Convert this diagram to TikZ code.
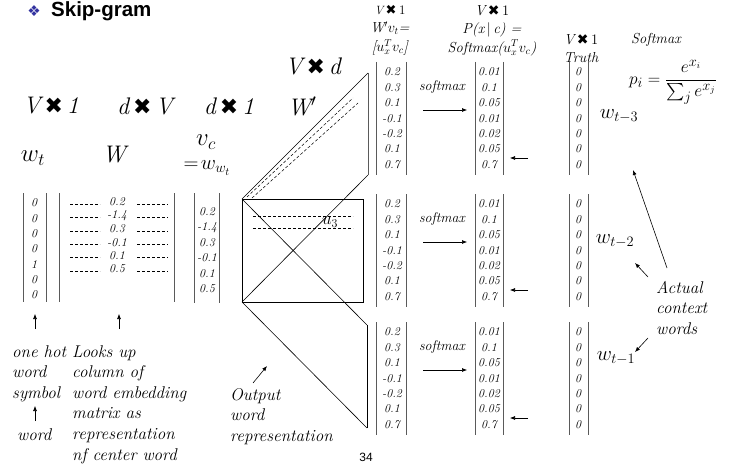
\documentclass[tikz,border=0pt]{standalone}
\usepackage{fontspec}
\usepackage{amsmath}
\usetikzlibrary{arrows.meta}
\newfontfamily\dejavu{DejaVu Sans}
\newfontfamily\arial{Liberation Sans}
\newcommand{\hx}{{\dejavu\bfseries ✖}}
\definecolor{bulletblue}{RGB}{51,51,160}
\definecolor{bargray}{RGB}{90,90,90}
\newcommand{\fs}[1]{\fontsize{#1}{#1}\selectfont}
\begin{document}
\begin{tikzpicture}[x=1pt,y=-1pt,
  val/.style={font=\fs{12}\itshape, inner sep=0pt},
  big/.style={font=\fs{24}\itshape, inner sep=0pt},
  hdr/.style={font=\fontsize{14.5}{18.5}\selectfont\itshape, inner sep=0pt, align=center},
  note/.style={font=\fontsize{17}{20.6}\selectfont\itshape, align=left, inner sep=0pt, anchor=north west},
  bar/.style={draw=bargray, line width=1pt},
  edge/.style={draw=black, line width=0.6pt},
  dsh/.style={draw=black, line width=0.5pt, dash pattern=on 3pt off 2pt},
  arr/.style={-{Latex[length=5pt,width=4pt]}, line width=0.6pt},
]
\useasboundingbox (0,0) rectangle (730,465);

% title
\node[font=\dejavu\fs{15}, text=bulletblue, inner sep=0pt] (bul) at (34,11) {❖};
\node[font=\arial\bfseries\fs{20.5}, anchor=west, inner sep=0pt] (title) at (51,11) {Skip-gram};

% big dimension labels
\node[big] (d1) at (51,106) {V\,{\fs{22}\hx}\,1};
\node[big] (d2) at (145,106) {d\,{\fs{22}\hx}\,V};
\node[big] (d3) at (229,106) {d\,{\fs{22}\hx}\,1};
\node[big] (d4) at (302,106) {W$'$};
\node[big] (d5) at (313,66) {V\,{\fs{22}\hx}\,d};

\node[font=\fs{24}, inner sep=0pt] (wt) at (33,158) {$w_t$};
\node[big] (Wl) at (114,155) {W};
\node[font=\fs{24}, inner sep=0pt] (vc) at (206,142) {$v_c$};
\node[font=\fs{22}, inner sep=0pt] (vcw) at (207,168) {$=\!w_{w_t}$};

% one-hot column
\draw[bar] (23,193) -- (23,302);
\draw[bar] (46,193) -- (46,302);
\foreach \v [count=\i from 0] in {0,0,0,0,1,0,0}
  \node[val] (oh\i) at (34,203+15.3*\i) {\v};

% W column
\draw[bar] (59,193) -- (59,302);
\draw[bar] (174,193) -- (174,302);
\foreach \v [count=\i from 0] in {0.2,-1.4,0.3,-0.1,0.1,0.5} {
  \node[val] (w\i) at (117,202+13.4*\i) {\v};
  \draw[dsh] (70,204+13.4*\i) -- (100,204+13.4*\i);
  \draw[dsh] (137,204+13.4*\i) -- (168,204+13.4*\i);
}

% v_c column
\draw[bar] (194,193) -- (194,303);
\draw[bar] (219,193) -- (219,303);
\foreach \v [count=\i from 0] in {0.2,-1.4,0.3,-0.1,0.1,0.5}
  \node[val] (vc\i) at (207,212+15.3*\i) {\v};

% W' blocks
\coordinate (TL) at (242,199);
\coordinate (BL) at (242,302);
\coordinate (TT) at (368,73);
\coordinate (TB) at (368,175);
\coordinate (MR) at (363,302);
\coordinate (BT) at (367,325);
\coordinate (BB) at (367,428);
\draw[edge] (TL) -- (TT);
\draw[edge] (BL) -- (TB);
\draw[bar] (TT) -- (TB);
\draw[edge] (TL) rectangle (MR);
\draw[edge] (TL) -- (BT);
\draw[edge] (BL) -- (BB);
\draw[edge] (BT) -- (BB);
\draw[dsh] (247,197) -- (353,98);
\draw[dsh] (252,198) -- (358,103);
\draw[dsh] (253,216) -- (353,216);
\draw[dsh] (253,228) -- (353,228);
\node[font=\fs{17}, inner sep=0pt] (u3) at (330,222) {$u_3$};

% output groups
\foreach \g/\yy/\tv in {t/72/5, m/204/1, b/332/6} {
  \draw[bar] (376,\yy-10) -- (376,\yy+103);
  \draw[bar] (406,\yy-10) -- (406,\yy+103);
  \draw[bar] (475,\yy-10) -- (475,\yy+103);
  \draw[bar] (503,\yy-10) -- (503,\yy+103);
  \draw[bar] (569,\yy-10) -- (569,\yy+103);
  \draw[bar] (588,\yy-10) -- (588,\yy+103);
  \foreach \v [count=\i from 0] in {0.2,0.3,0.1,-0.1,-0.2,0.1,0.7}
    \node[val] (a\g\i) at (392,\yy+15.4*\i) {\v};
  \foreach \v [count=\i from 0] in {0.01,0.1,0.05,0.01,0.02,0.05,0.7}
    \node[val] (b\g\i) at (489,\yy+15.4*\i) {\v};
  \foreach \i in {0,...,6}
    \node[val] (c\g\i) at (578,\yy+15.4*\i) {\ifnum\i=\tv 1\else 0\fi};
  \node[font=\fs{14}\itshape, inner sep=0pt] (sm\g) at (442,\yy+15) {softmax};
  \coordinate (sa\g) at (423,\yy+38);
  \coordinate (sb\g) at (467,\yy+38);
  \draw[arr] (sa\g) -- (sb\g);
  \coordinate (la\g) at (528,\yy+86);
  \coordinate (lb\g) at (510,\yy+86);
  \draw[arr] (la\g) -- (lb\g);
}

\node[font=\fs{21}, inner sep=0pt] (wt3) at (619,116) {$w_{t-3}$};
\node[font=\fs{21}, inner sep=0pt] (wt2) at (615,241) {$w_{t-2}$};
\node[font=\fs{21}, inner sep=0pt] (wt1) at (616,358) {$w_{t-1}$};

% headers
\node[hdr, anchor=north] (ha) at (390,5)
  {{\fs{12}V}\,{\fs{13}\hx}\,{\fs{13}\upshape 1}\\W$'v_t$=\\{}[$u_x^Tv_c$]};
\node[hdr, anchor=north] (hb) at (492,5)
  {V\,{\fs{14}\hx}\,{\upshape 1}\\P(x\,$|$\,c) =\\Softmax($u_x^Tv_c$)};
\node[hdr, anchor=north] (hc) at (581,34)
  {V\,{\fs{14}\hx}\,{\upshape 1}\\Truth};
\node[hdr] (hs) at (656,40) {Softmax};
\node[font=\fs{19}, inner sep=0pt] (form) at (673,82) {$p_i=\dfrac{e^{x_i}}{\sum_j e^{x_j}}$};

% bottom annotations
\coordinate (ar1a) at (35,329); \coordinate (ar1b) at (35,314);
\draw[arr] (ar1a) -- (ar1b);
\coordinate (ar2a) at (119,329); \coordinate (ar2b) at (119,314);
\draw[arr] (ar2a) -- (ar2b);
\node[note] (onehot) at (12,345) {one hot\\word\\symbol};
\coordinate (ar3a) at (35,421); \coordinate (ar3b) at (35,406);
\draw[arr] (ar3a) -- (ar3b);
\node[note] (word) at (17,428) {word};
\node[note] (looks) at (72,345) {Looks up\\column of\\word embedding\\matrix as\\representation\\nf center word};
\node[note] (outp) at (230,388) {Output\\word\\representation};
\coordinate (ar4a) at (253,383); \coordinate (ar4b) at (267,366);
\draw[arr] (ar4a) -- (ar4b);
\node[font=\arial\fs{12}, inner sep=0pt] (pg) at (366,457) {34};

\node[note] (actual) at (656,281) {Actual\\context\\words};
\coordinate (ac1a) at (667,268); \coordinate (ac1b) at (633,170);
\draw[arr] (ac1a) -- (ac1b);
\coordinate (ac2a) at (648,277); \coordinate (ac2b) at (635,263);
\draw[arr] (ac2a) -- (ac2b);
\coordinate (ac3a) at (648,338); \coordinate (ac3b) at (635,352);
\draw[arr] (ac3a) -- (ac3b);
\end{tikzpicture}
\end{document}
